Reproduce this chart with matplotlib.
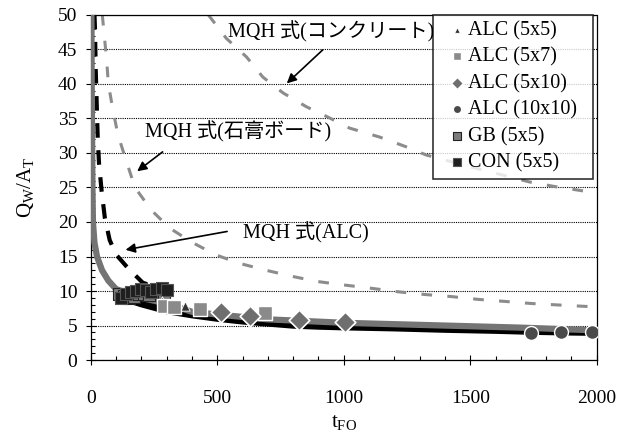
import matplotlib
matplotlib.use("Agg")
import matplotlib.pyplot as plt
from matplotlib.ticker import MultipleLocator

plt.rcParams['font.family'] = ['Liberation Serif', 'Noto Sans CJK JP']
plt.rcParams['mathtext.fontset'] = 'custom'
plt.rcParams['mathtext.rm'] = 'Liberation Serif'
plt.rcParams['mathtext.it'] = 'Liberation Serif'

# MQH-Kurven
mqh_con_x = [465, 536, 616, 680, 760, 852, 937, 1023, 1142, 1246, 1326, 1500, 1734, 1839, 2000]
mqh_con_y = [50, 46.6, 43.9, 41.0, 38.7, 36.7, 35.2, 33.6, 32.3, 30.9, 29.7, 28.0, 25.8, 25.1, 24.2]

mqh_gb_x = [46, 63, 70, 88, 108, 142, 175, 240, 313, 398, 497, 589, 694, 800, 892, 996,
            1109, 1213, 1320, 1425, 1529, 1636, 1740, 1839, 1943, 2000]
mqh_gb_y = [50, 43.5, 40.0, 36.2, 32.6, 28.7, 25.0, 21.7, 19.1, 17.1, 15.2, 14.0, 13.0, 12.1, 11.4, 10.9,
            10.4, 9.9, 9.5, 9.2, 8.8, 8.5, 8.2, 8.0, 7.8, 7.7]

mqh_alc_x = [15, 17, 20, 24, 28, 33, 43, 56, 75, 100, 148, 206, 273, 300]
mqh_alc_y = [50, 48, 42, 37, 32, 28.5, 24.6, 20.6, 17.4, 15.3, 13.3, 11.2, 10.4, 10.0]

# Messwerte als dichte Spur
trace_gray_x = [3, 3.5, 4, 5, 6, 7, 9, 15, 25, 45, 70, 100, 150, 200, 300, 400, 500, 700, 1000, 1200, 1500, 1700, 2000]
trace_gray_y = [50, 45, 40, 35, 30, 25, 20, 17, 15, 13, 11.5, 10.3, 9.6, 9.0, 8.2, 7.0, 6.6, 5.9, 5.4, 5.2, 4.9, 4.7, 4.3]

trace_black_x = [150, 200, 300, 400, 500, 600, 700, 800, 900, 1000, 1200, 1400, 1600, 1750, 1900, 2000]
trace_black_y = [8.8, 8.2, 7.2, 6.6, 6.1, 5.7, 5.4, 5.1, 4.95, 4.85, 4.7, 4.5, 4.35, 4.2, 4.1, 4.05]

# Einzelne Marker
alc55_x = [280, 372]
alc55_y = [8.5, 7.8]
alc57_x = [290, 330, 431, 688]
alc57_y = [7.9, 7.7, 7.4, 6.8]
alc510_x = [517, 628, 822, 1004]
alc510_y = [7.0, 6.4, 5.8, 5.5]
alc1010_x = [1741, 1860, 1983]
alc1010_y = [3.9, 4.0, 4.1]
gb55_x = [110, 130, 150, 170, 190, 210, 230, 250, 270, 290]
gb55_y = [9.6, 9.3, 9.0, 9.2, 9.5, 9.6, 9.4, 9.8, 10.0, 9.7]
con55_x = [120, 140, 160, 180, 200, 220, 240, 260, 280, 300]
con55_y = [9.0, 9.5, 9.8, 10.0, 10.3, 10.1, 9.9, 10.3, 10.5, 10.2]

fig = plt.figure(figsize=(6.21, 4.37), dpi=100)
ax = fig.add_axes([0.146, 0.176, 0.815, 0.79])

# Kurven
ax.plot(mqh_con_x, mqh_con_y, color="#8c8c8c", lw=2.2, dashes=(3.5, 5), zorder=2)
ax.plot(mqh_gb_x, mqh_gb_y, color="#8c8c8c", lw=2.2, dashes=(3.5, 5), zorder=2)
ax.plot(mqh_alc_x, mqh_alc_y, color="black", lw=3.0, dashes=(3.5, 3), zorder=3)

ax.plot(trace_black_x, trace_black_y, color="black", lw=5.5, solid_capstyle="butt", zorder=4)
ax.plot(trace_gray_x, trace_gray_y, color="#747474", lw=4.5, solid_capstyle="butt", zorder=4)

ax.scatter(alc55_x, alc55_y, marker="^", s=45, c="#333333", edgecolors="white", lw=0.6, zorder=6, label="ALC (5x5)")
ax.scatter(alc57_x, alc57_y, marker="s", s=100, c="#8a8a8a", edgecolors="white", lw=1.0, zorder=6, label="ALC (5x7)")
ax.scatter(alc510_x, alc510_y, marker="D", s=110, c="#6e6e6e", edgecolors="white", lw=1.2, zorder=6, label="ALC (5x10)")
ax.scatter(alc1010_x, alc1010_y, marker="o", s=100, c="#4a4a4a", edgecolors="white", lw=1.0, zorder=6, label="ALC (10x10)")
ax.scatter(gb55_x, gb55_y, marker="s", s=80, c="#7c7c7c", edgecolors="#222222", lw=0.8, zorder=5, label="GB (5x5)")
ax.scatter(con55_x, con55_y, marker="s", s=80, c="#1e1e1e", edgecolors="#555555", lw=0.8, zorder=5, label="CON (5x5)")

# Beschriftungen mit Pfeilen
arrow = dict(arrowstyle="-|>", color="black", lw=1.2, mutation_scale=14)
ax.annotate("", xy=(767, 39.8), xytext=(925, 45.2), arrowprops=arrow, zorder=7)
ax.text(542, 47.5, "MQH 式(コンクリート)", fontsize=14.5, va="center", ha="left", zorder=7)
ax.annotate("", xy=(175, 27.1), xytext=(293, 30.4), arrowprops=arrow, zorder=7)
ax.text(214, 33, "MQH 式(石膏ボード)", fontsize=14.5, va="center", ha="left", zorder=7)
ax.annotate("", xy=(127, 15.9), xytext=(550, 18.7), arrowprops=arrow, zorder=7)
ax.text(601, 18.4, "MQH 式(ALC)", fontsize=14.5, va="center", ha="left", zorder=7)

ax.set_xlim(0, 2000)
ax.set_ylim(0, 50)
ax.xaxis.set_major_locator(MultipleLocator(500))
ax.xaxis.set_minor_locator(MultipleLocator(100))
ax.yaxis.set_major_locator(MultipleLocator(5))
ax.yaxis.set_minor_locator(MultipleLocator(1))
ax.tick_params(which="major", direction="inout", length=7, width=0.8, labelsize=14)
ax.tick_params(which="minor", direction="in", length=3, width=0.8)
ax.tick_params(axis="x", pad=18)
ax.tick_params(axis="y", pad=6)
ax.grid(axis="y", which="major", color="black", lw=0.8, ls=(0, (1, 1)))
for s in ax.spines.values():
    s.set_linewidth(0.9)
    s.set_linestyle((0, (1, 1)))

ax.set_xlabel(r"t$_{\mathrm{FO}}$", fontsize=15, labelpad=4)
ax.set_ylabel(r"Q$_{\mathrm{W}}$/A$_{\mathrm{T}}$", fontsize=15, labelpad=16)

leg = ax.legend(loc="upper left", bbox_to_anchor=(0.676, 0.5, 0.317, 0.5), mode="expand",
                fontsize=14.5, frameon=True, fancybox=False, edgecolor="black",
                handletextpad=-0.4, handlelength=1.85, markerscale=0.6, borderpad=0.3,
                labelspacing=0.36, borderaxespad=0.0)
leg.get_frame().set_linewidth(1.2)
leg.set_zorder(10)

fig.savefig("out.png", dpi=100)
